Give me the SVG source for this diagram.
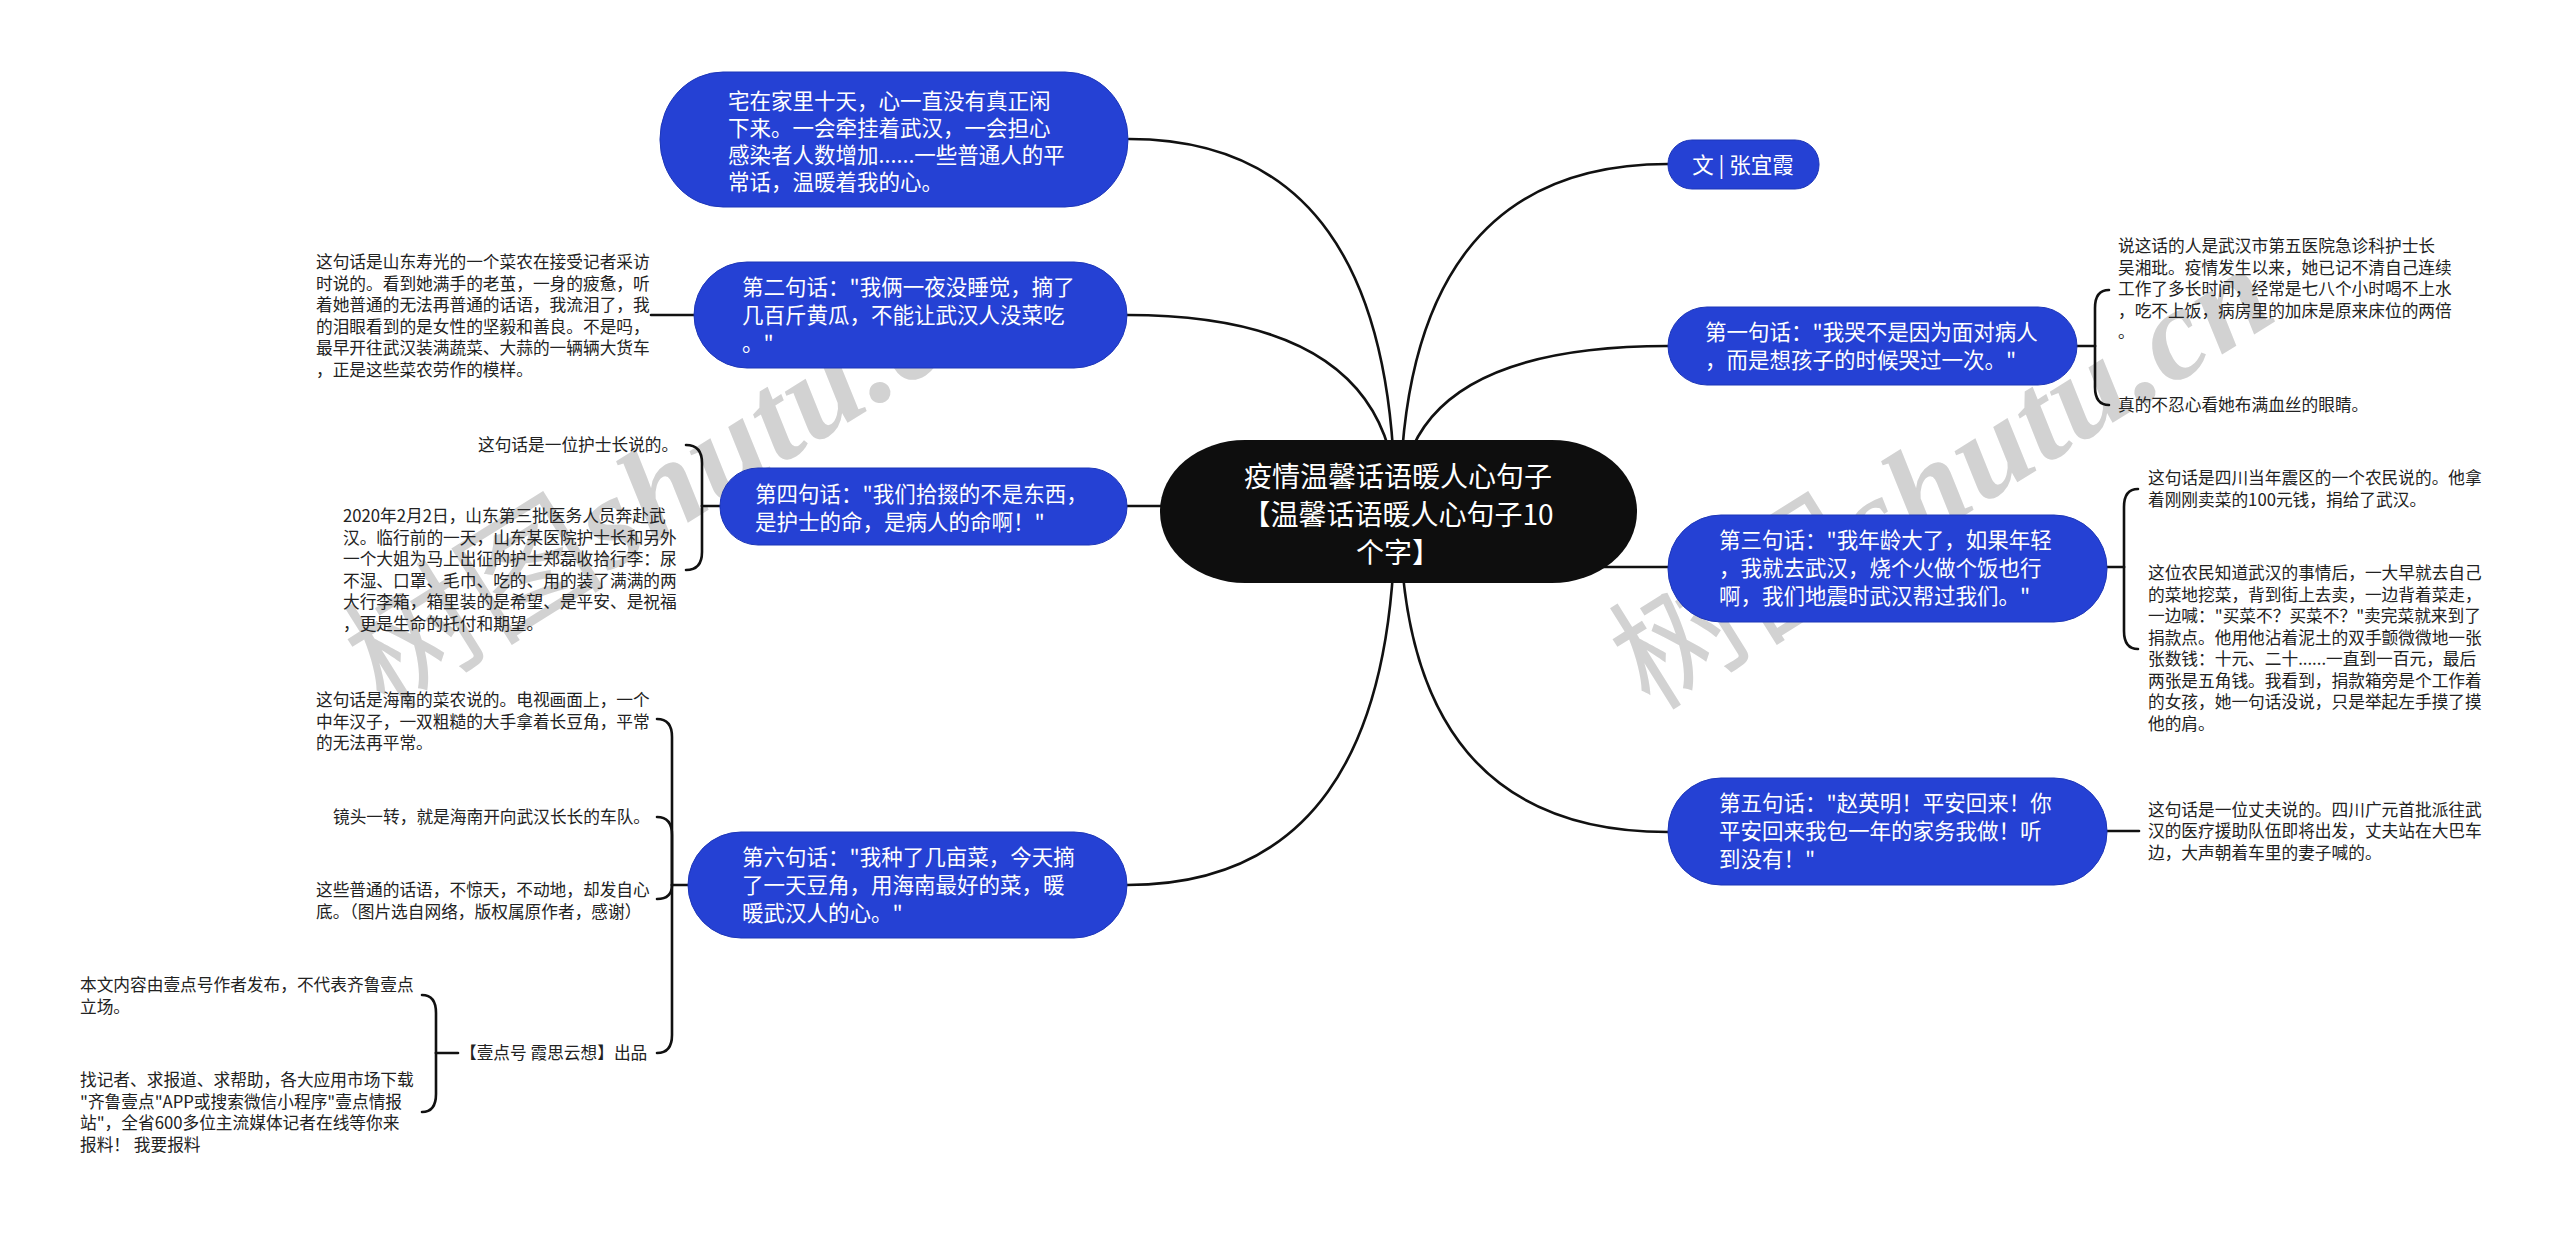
<svg xmlns="http://www.w3.org/2000/svg" width="2560" height="1233" viewBox="0 0 2560 1233">
<style>
.bg{fill:#ffffff}
.wm{font-family:"Liberation Serif","DejaVu Serif",serif;font-style:italic;font-weight:bold;font-size:130px;fill:#d2d2d2;letter-spacing:2px}
.wmc{font-family:"Noto Sans CJK SC",sans-serif;font-style:normal;font-weight:normal}
.blue{fill:#2541d4;stroke:#1d36b8;stroke-width:1}
.root{fill:#0e0e0e}
.nt{font-family:"Noto Sans CJK SC","Noto Sans",sans-serif;font-size:21.5px;fill:#ffffff}
.rt{font-family:"Noto Sans CJK SC","Noto Sans",sans-serif;font-size:28px;fill:#ffffff;text-anchor:middle}
.st{font-family:"Noto Sans CJK SC","Noto Sans",sans-serif;font-size:16.7px;fill:#222222}
.conn path{fill:none;stroke:#111111;stroke-width:2.6;stroke-linecap:round}
</style>
<rect class="bg" x="0" y="0" width="2560" height="1233"/>
<g id="watermark">
<text class="wm" transform="translate(385,712) rotate(-32)"><tspan class="wmc">树图</tspan>shutu.cn</text>
<text class="wm" transform="translate(1650,712) rotate(-32)"><tspan class="wmc">树图</tspan>shutu.cn</text>
</g>
<g id="connectors" class="conn">
<path d="M1395,511 Q1395,139 1129,139"/>
<path d="M1397,511 Q1397,315 1127,315"/>
<path d="M1127,506 L1200,506"/>
<path d="M1395,511 Q1395,885 1127,885"/>
<path d="M1400,511 Q1400,164 1668,164"/>
<path d="M1400,511 Q1400,346 1668,346"/>
<path d="M1590,567 L1668,567"/>
<path d="M1400,511 Q1400,832 1668,832"/>
<path d="M694,315 L651,315"/>
<path d="M720,506 L702,506"/>
<path d="M702,506 L702,463 Q702,445 686,445"/>
<path d="M702,506 L702,552 Q702,570 686,570"/>
<path d="M688,885 L672,885"/>
<path d="M672,885 L672,737 Q672,719 657,719"/>
<path d="M672,885 L672,835 Q672,817 657,817"/>
<path d="M672,885 Q672,899 657,899"/>
<path d="M672,885 L672,1035 Q672,1053 657,1053"/>
<path d="M458,1053 L436,1053"/>
<path d="M436,1053 L436,1013 Q436,995 422,995"/>
<path d="M436,1053 L436,1094 Q436,1112 422,1112"/>
<path d="M2077,346 L2095,346"/>
<path d="M2095,346 L2095,308 Q2095,290 2109,290"/>
<path d="M2095,346 L2095,387 Q2095,405 2109,405"/>
<path d="M2107,567 L2124,567"/>
<path d="M2124,567 L2124,507 Q2124,489 2138,489"/>
<path d="M2124,567 L2124,631 Q2124,649 2138,649"/>
<path d="M2107,831 L2139,831"/>
</g>
<g id="root">
<rect class="root" x="1160" y="440" width="477" height="143" rx="85" ry="71"/>
<text class="rt" x="1398" y="487">疫情温馨话语暖人心句子</text>
<text class="rt" x="1398" y="525">【温馨话语暖人心句子10</text>
<text class="rt" x="1398" y="563">个字】</text>
</g>
<g id="node-a">
<rect class="blue" x="660" y="72" width="468" height="135" rx="63" ry="67"/>
<text class="nt" x="728" y="109">宅在家里十天，心一直没有真正闲</text>
<text class="nt" x="728" y="136">下来。一会牵挂着武汉，一会担心</text>
<text class="nt" x="728" y="163">感染者人数增加......一些普通人的平</text>
<text class="nt" x="728" y="190">常话，温暖着我的心。</text>
</g>
<g id="node-2">
<rect class="blue" x="694" y="262" width="433" height="106" rx="53" ry="53"/>
<text class="nt" x="742" y="295">第二句话："我俩一夜没睡觉，摘了</text>
<text class="nt" x="742" y="323">几百斤黄瓜，不能让武汉人没菜吃</text>
<text class="nt" x="742" y="351">。"</text>
</g>
<g id="note-2">
<text class="st" x="316" y="268">这句话是山东寿光的一个菜农在接受记者采访</text>
<text class="st" x="316" y="289.5">时说的。看到她满手的老茧，一身的疲惫，听</text>
<text class="st" x="316" y="311">着她普通的无法再普通的话语，我流泪了，我</text>
<text class="st" x="316" y="332.5">的泪眼看到的是女性的坚毅和善良。不是吗，</text>
<text class="st" x="316" y="354">最早开往武汉装满蔬菜、大蒜的一辆辆大货车</text>
<text class="st" x="316" y="375.5">，正是这些菜农劳作的模样。</text>
</g>
<g id="node-4">
<rect class="blue" x="720" y="468" width="407" height="77" rx="38" ry="38"/>
<text class="nt" x="755" y="502">第四句话："我们拾掇的不是东西，</text>
<text class="nt" x="755" y="530">是护士的命，是病人的命啊！"</text>
</g>
<g id="note-4a">
<text class="st" x="478" y="451">这句话是一位护士长说的。</text>
</g>
<g id="note-4b">
<text class="st" x="343" y="522">2020年2月2日，山东第三批医务人员奔赴武</text>
<text class="st" x="343" y="543.5">汉。临行前的一天，山东某医院护士长和另外</text>
<text class="st" x="343" y="565">一个大姐为马上出征的护士郑磊收拾行李：尿</text>
<text class="st" x="343" y="586.5">不湿、口罩、毛巾、吃的、用的装了满满的两</text>
<text class="st" x="343" y="608">大行李箱，箱里装的是希望、是平安、是祝福</text>
<text class="st" x="343" y="629.5">，更是生命的托付和期望。</text>
</g>
<g id="node-6">
<rect class="blue" x="688" y="832" width="439" height="106" rx="53" ry="53"/>
<text class="nt" x="742" y="865">第六句话："我种了几亩菜，今天摘</text>
<text class="nt" x="742" y="893">了一天豆角，用海南最好的菜，暖</text>
<text class="nt" x="742" y="921">暖武汉人的心。"</text>
</g>
<g id="note-6a">
<text class="st" x="316" y="706">这句话是海南的菜农说的。电视画面上，一个</text>
<text class="st" x="316" y="727.5">中年汉子，一双粗糙的大手拿着长豆角，平常</text>
<text class="st" x="316" y="749">的无法再平常。</text>
</g>
<g id="note-6b">
<text class="st" x="333" y="823">镜头一转，就是海南开向武汉长长的车队。</text>
</g>
<g id="note-6c">
<text class="st" x="316" y="896">这些普通的话语，不惊天，不动地，却发自心</text>
<text class="st" x="316" y="917.5">底。（图片选自网络，版权属原作者，感谢）</text>
</g>
<g id="note-6d">
<text class="st" x="460" y="1059">【壹点号 霞思云想】出品</text>
</g>
<g id="note-6d1">
<text class="st" x="80" y="991">本文内容由壹点号作者发布，不代表齐鲁壹点</text>
<text class="st" x="80" y="1012.5">立场。</text>
</g>
<g id="note-6d2">
<text class="st" x="80" y="1086">找记者、求报道、求帮助，各大应用市场下载</text>
<text class="st" x="80" y="1107.5">"齐鲁壹点"APP或搜索微信小程序"壹点情报</text>
<text class="st" x="80" y="1129">站"，全省600多位主流媒体记者在线等你来</text>
<text class="st" x="80" y="1150.5">报料！ 我要报料</text>
</g>
<g id="node-author">
<rect class="blue" x="1668" y="140" width="151" height="49" rx="24" ry="24"/>
<text class="nt" x="1743" y="173" text-anchor="middle">文 | 张宜霞</text>
</g>
<g id="node-1">
<rect class="blue" x="1668" y="307" width="409" height="78" rx="39" ry="39"/>
<text class="nt" x="1705" y="340">第一句话："我哭不是因为面对病人</text>
<text class="nt" x="1705" y="368">，而是想孩子的时候哭过一次。"</text>
</g>
<g id="note-1a">
<text class="st" x="2118" y="252">说这话的人是武汉市第五医院急诊科护士长</text>
<text class="st" x="2118" y="273.5">吴湘玭。疫情发生以来，她已记不清自己连续</text>
<text class="st" x="2118" y="295">工作了多长时间，经常是七八个小时喝不上水</text>
<text class="st" x="2118" y="316.5">，吃不上饭，病房里的加床是原来床位的两倍</text>
<text class="st" x="2118" y="338">。</text>
</g>
<g id="note-1b">
<text class="st" x="2118" y="411">真的不忍心看她布满血丝的眼睛。</text>
</g>
<g id="node-3">
<rect class="blue" x="1668" y="515" width="439" height="107" rx="53" ry="53"/>
<text class="nt" x="1719" y="548">第三句话："我年龄大了，如果年轻</text>
<text class="nt" x="1719" y="576">，我就去武汉，烧个火做个饭也行</text>
<text class="nt" x="1719" y="604">啊，我们地震时武汉帮过我们。"</text>
</g>
<g id="note-3a">
<text class="st" x="2148" y="484">这句话是四川当年震区的一个农民说的。他拿</text>
<text class="st" x="2148" y="505.5">着刚刚卖菜的100元钱，捐给了武汉。</text>
</g>
<g id="note-3b">
<text class="st" x="2148" y="579">这位农民知道武汉的事情后，一大早就去自己</text>
<text class="st" x="2148" y="600.5">的菜地挖菜，背到街上去卖，一边背着菜走，</text>
<text class="st" x="2148" y="622">一边喊："买菜不？买菜不？"卖完菜就来到了</text>
<text class="st" x="2148" y="643.5">捐款点。他用他沾着泥土的双手颤微微地一张</text>
<text class="st" x="2148" y="665">张数钱：十元、二十......一直到一百元，最后</text>
<text class="st" x="2148" y="686.5">两张是五角钱。我看到，捐款箱旁是个工作着</text>
<text class="st" x="2148" y="708">的女孩，她一句话没说，只是举起左手摸了摸</text>
<text class="st" x="2148" y="729.5">他的肩。</text>
</g>
<g id="node-5">
<rect class="blue" x="1668" y="778" width="439" height="107" rx="53" ry="53"/>
<text class="nt" x="1719" y="811">第五句话："赵英明！平安回来！你</text>
<text class="nt" x="1719" y="839">平安回来我包一年的家务我做！听</text>
<text class="nt" x="1719" y="867">到没有！"</text>
</g>
<g id="note-5">
<text class="st" x="2148" y="815.5">这句话是一位丈夫说的。四川广元首批派往武</text>
<text class="st" x="2148" y="837">汉的医疗援助队伍即将出发，丈夫站在大巴车</text>
<text class="st" x="2148" y="858.5">边，大声朝着车里的妻子喊的。</text>
</g>
</svg>
